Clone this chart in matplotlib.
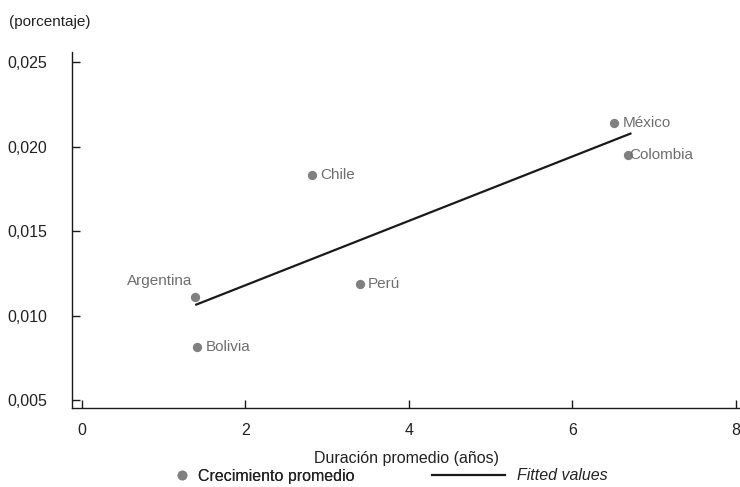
import matplotlib
matplotlib.use("Agg")
import matplotlib.pyplot as plt
from matplotlib.lines import Line2D

plt.rcParams['font.family'] = ['Liberation Sans Narrow', 'Liberation Sans', 'DejaVu Sans']

# --- datos ---
paises = ['Argentina', 'Bolivia', 'Chile', 'Perú', 'México', 'Colombia']
duracion = [1.38, 1.41, 2.82, 3.40, 6.51, 6.68]
crecimiento = [0.01107, 0.00816, 0.01834, 0.01184, 0.02142, 0.01953]

# valores ajustados (extremos de la recta)
fit_x = [1.40, 6.71]
fit_y = [0.01065, 0.02077]

x_ticks = [0, 2, 4, 6, 8]
y_ticks = [0.005, 0.010, 0.015, 0.020, 0.025]

gris = '#808080'
texto_gris = '#6e6e6e'
negro = '#1a1a1a'
fs = 11

fig = plt.figure(figsize=(7.4, 4.87), dpi=100)
ax = fig.add_axes([72 / 740, 79 / 487, 668 / 740, 356 / 487])

ax.scatter(duracion, crecimiento, s=45, color=gris, zorder=3, linewidths=0)
ax.plot(fit_x, fit_y, color=negro, lw=1.6, zorder=2)

# posiciones de las etiquetas (offset en puntos, alineación)
offsets = {
    'Argentina': ((-2, 7), 'right', 'bottom'),
    'Bolivia': ((6, 0), 'left', 'center'),
    'Chile': ((6, 0), 'left', 'center'),
    'Perú': ((6, 0), 'left', 'center'),
    'México': ((6, 0), 'left', 'center'),
    'Colombia': ((1, 0), 'left', 'center'),
}
for p, xv, yv in zip(paises, duracion, crecimiento):
    off, ha, va = offsets[p]
    ax.annotate(p, (xv, yv), xytext=off, textcoords='offset points',
                ha=ha, va=va, fontsize=fs, color=texto_gris)

ax.set_xlim(-0.12, 8.05)
ax.set_ylim(0.00453, 0.0256)
ax.set_xticks(x_ticks)
ax.set_yticks(y_ticks)
ax.set_yticklabels([f'{v:.3f}'.replace('.', ',') for v in y_ticks])
ax.tick_params(direction='in', length=5.5, width=1, colors=negro,
               labelsize=fs + 0.5, labelcolor='#222222')
ax.tick_params(axis='y', pad=18)
ax.tick_params(axis='x', pad=11)

for s in ['top', 'right']:
    ax.spines[s].set_visible(False)
for s in ['left', 'bottom']:
    ax.spines[s].set_color(negro)
    ax.spines[s].set_linewidth(1)

ax.set_xlabel('Duración promedio (años)', fontsize=fs + 0.5, color='#222222', labelpad=9)
fig.text(9 / 740, 1 - 22 / 487, '(porcentaje)', fontsize=fs, color='#222222',
         va='center', ha='left')

h1 = Line2D([], [], marker='o', ls='none', color=gris, markersize=7, markeredgewidth=0)
h2 = Line2D([], [], color=negro, lw=1.6)
leg1 = fig.legend([h1], ['Crecimiento promedio'], loc='center left',
                  bbox_to_anchor=(176 / 740, 1 - 476 / 487), frameon=False,
                  fontsize=fs + 0.5, handlelength=0.8, handletextpad=0.6,
                  borderaxespad=0, borderpad=0)
leg2 = fig.legend([h2], ['Fitted values'], loc='center left',
                  bbox_to_anchor=(432 / 740, 1 - 476 / 487), frameon=False,
                  fontsize=fs + 0.5, handlelength=4.6, handletextpad=0.7,
                  borderaxespad=0, borderpad=0)
for t in leg1.get_texts() + leg2.get_texts():
    t.set_color('#222222')
leg2.get_texts()[0].set_style('italic')
fig.add_artist(leg1)

fig.savefig('out.png', dpi=100)
